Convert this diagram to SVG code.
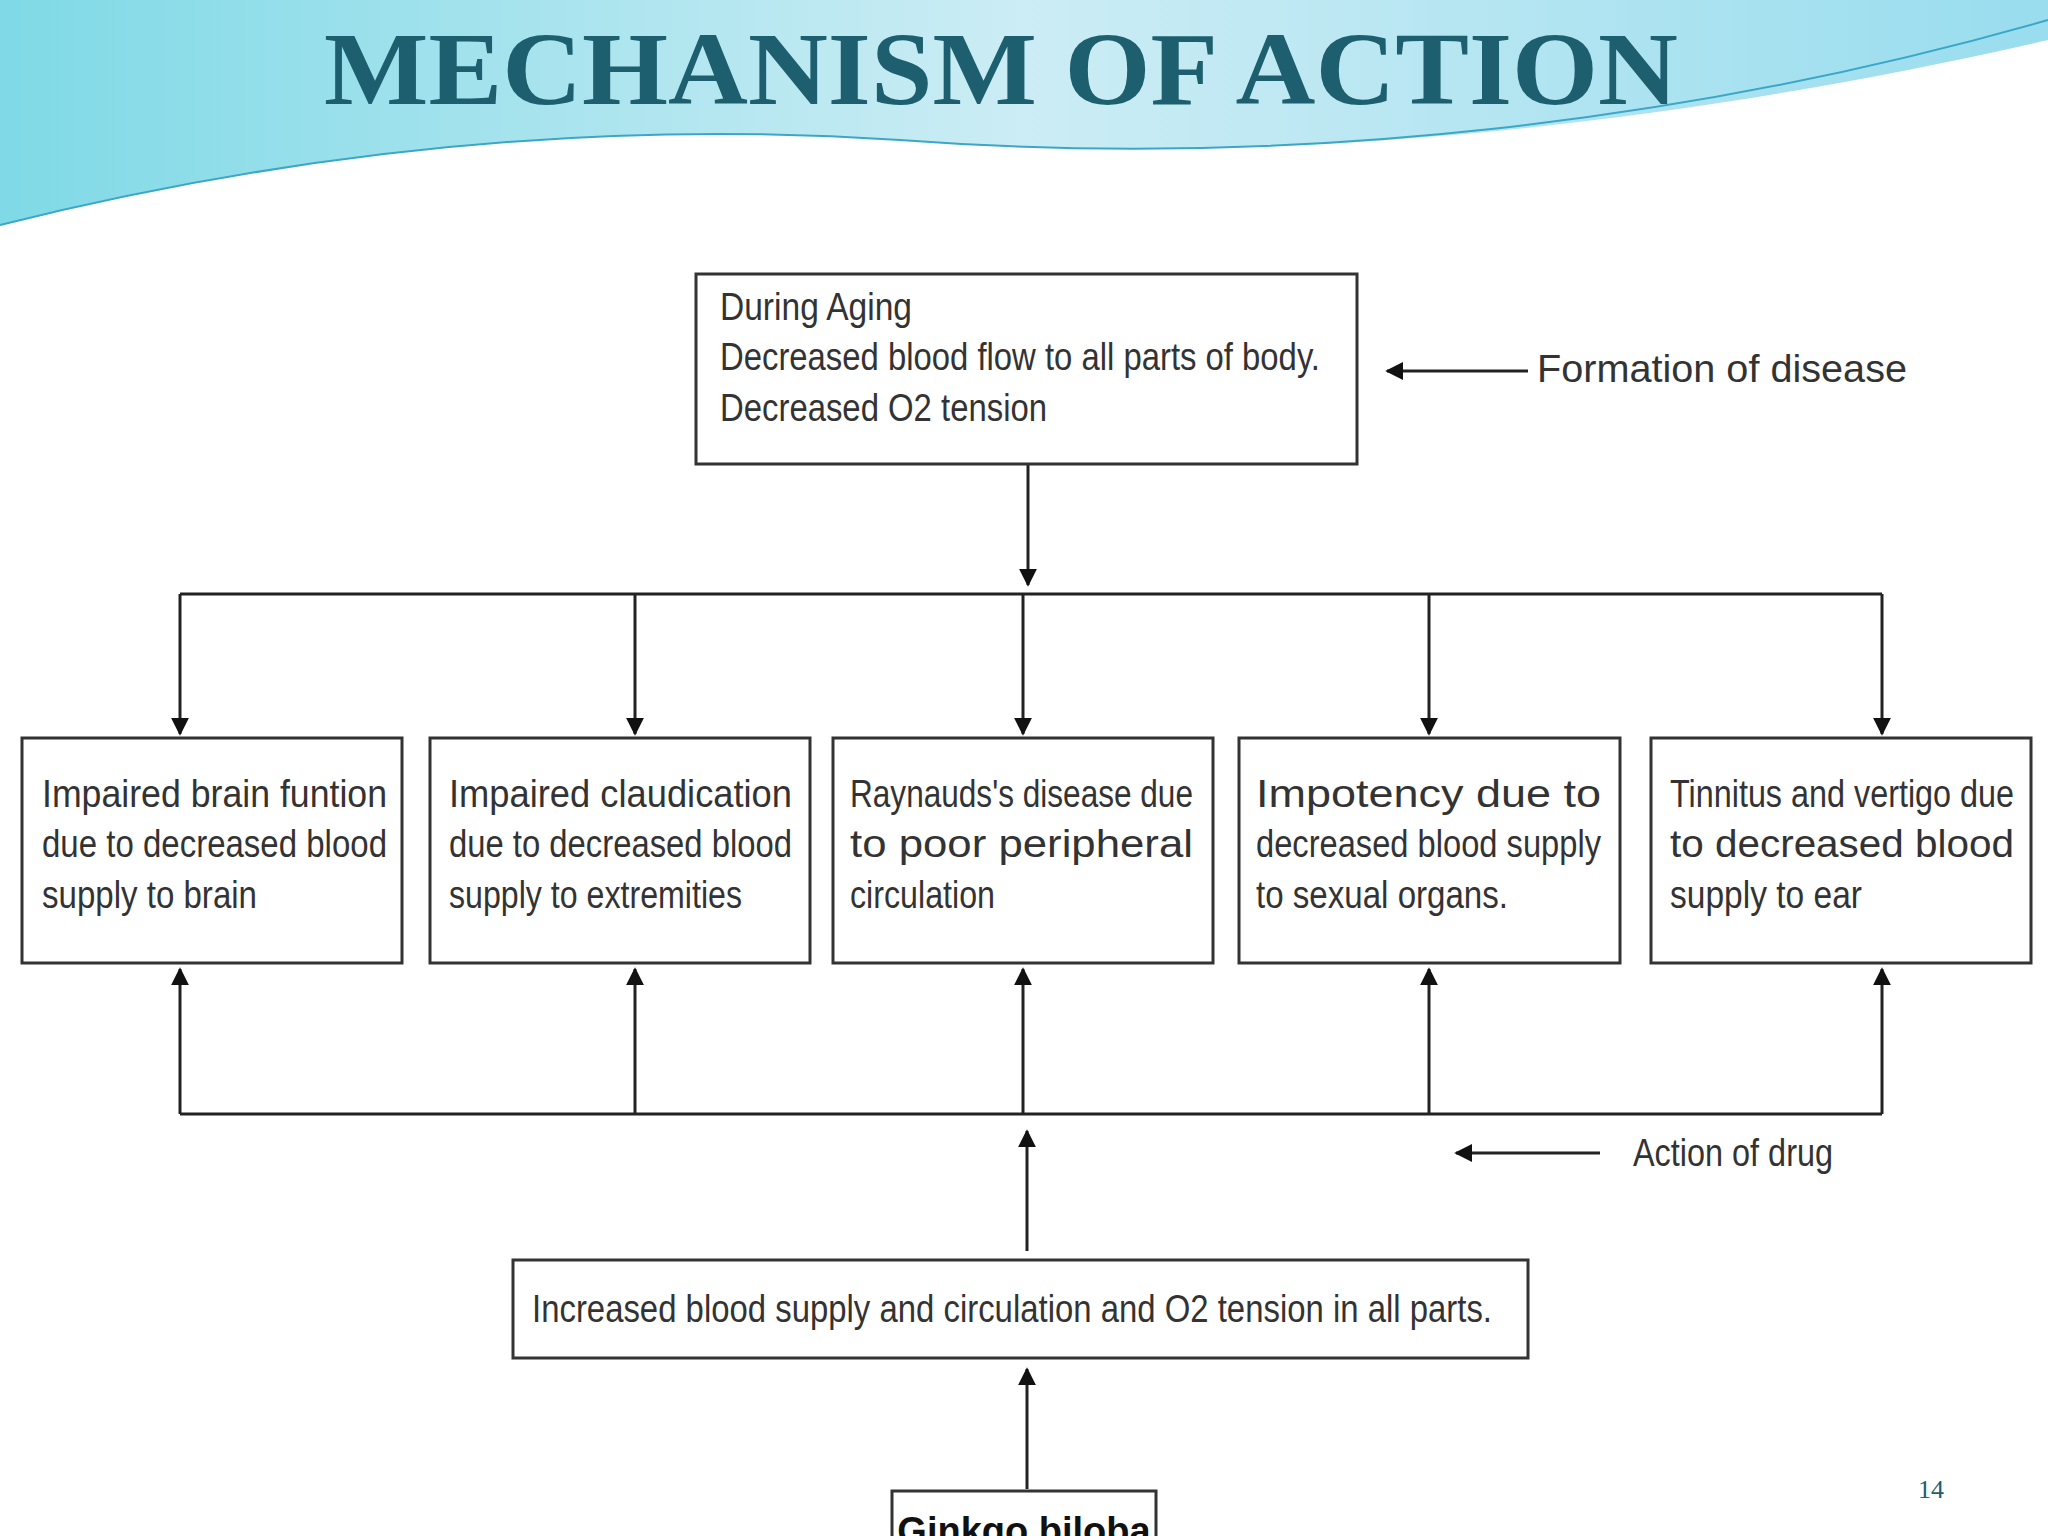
<svg xmlns="http://www.w3.org/2000/svg" width="2048" height="1536" viewBox="0 0 2048 1536">
<defs>
<style>
.t{font-family:"Liberation Sans",Arial,sans-serif;font-size:38px;fill:#333}
.b{fill:#fff;stroke:#333;stroke-width:3}
.c{stroke:#222;stroke-width:3;fill:none}
</style>
<marker id="a" viewBox="0 0 10 10" refX="9" refY="5" markerWidth="6" markerHeight="6" orient="auto"><path d="M0,0L10,5L0,10z" fill="#111"/></marker>
<linearGradient id="g" x1="0" y1="0" x2="1" y2="0"><stop offset="0" stop-color="#5fd0e0"/><stop offset="0.5" stop-color="#bfe8f2"/><stop offset="1" stop-color="#7fd4ea"/></linearGradient>
</defs>
<rect width="2048" height="1536" fill="#fff"/>
<path d="M0,0H2048V40C1700,120 1300,170 900,140C600,120 300,150 0,225Z" fill="url(#g)" opacity="0.8"/>
<path d="M0,225C300,150 600,120 900,140C1300,170 1700,120 2048,20" class="c" style="stroke:#3aa7c8;stroke-width:2"/>
<text x="324" y="104" textLength="1354" lengthAdjust="spacingAndGlyphs" style="font-family:'Liberation Serif',serif;font-weight:bold;font-size:104px;fill:#1d5f6e">MECHANISM OF ACTION</text>
<g id="connectors" class="c">
<line x1="1528" y1="371" x2="1387" y2="371" marker-end="url(#a)"/>
<line x1="1028" y1="464" x2="1028" y2="585" marker-end="url(#a)"/>
<line x1="180" y1="594" x2="1882" y2="594"/>
<line x1="180" y1="594" x2="180" y2="734" marker-end="url(#a)"/>
<line x1="635" y1="594" x2="635" y2="734" marker-end="url(#a)"/>
<line x1="1023" y1="594" x2="1023" y2="734" marker-end="url(#a)"/>
<line x1="1429" y1="594" x2="1429" y2="734" marker-end="url(#a)"/>
<line x1="1882" y1="594" x2="1882" y2="734" marker-end="url(#a)"/>
<line x1="180" y1="1114" x2="1882" y2="1114"/>
<line x1="180" y1="1114" x2="180" y2="969" marker-end="url(#a)"/>
<line x1="635" y1="1114" x2="635" y2="969" marker-end="url(#a)"/>
<line x1="1023" y1="1114" x2="1023" y2="969" marker-end="url(#a)"/>
<line x1="1429" y1="1114" x2="1429" y2="969" marker-end="url(#a)"/>
<line x1="1882" y1="1114" x2="1882" y2="969" marker-end="url(#a)"/>
<line x1="1600" y1="1153" x2="1456" y2="1153" marker-end="url(#a)"/>
<line x1="1027" y1="1251" x2="1027" y2="1131" marker-end="url(#a)"/>
<line x1="1027" y1="1489" x2="1027" y2="1369" marker-end="url(#a)"/>
</g>
<text class="t" x="1537" y="382" textLength="370" lengthAdjust="spacingAndGlyphs">Formation of disease</text>
<text class="t" x="1633" y="1166" textLength="200" lengthAdjust="spacingAndGlyphs">Action of drug</text>
<g id="top"><rect class="b" x="696" y="274" width="661" height="190"/>
<text class="t" x="720" y="320" textLength="192" lengthAdjust="spacingAndGlyphs">During Aging</text>
<text class="t" x="720" y="370" textLength="600" lengthAdjust="spacingAndGlyphs">Decreased blood flow to all parts of body.</text>
<text class="t" x="720" y="421" textLength="327" lengthAdjust="spacingAndGlyphs">Decreased O2 tension</text></g>
<g id="n1"><rect class="b" x="22" y="738" width="380" height="225"/>
<text class="t" x="42" y="807" textLength="345" lengthAdjust="spacingAndGlyphs">Impaired brain funtion</text>
<text class="t" x="42" y="857" textLength="345" lengthAdjust="spacingAndGlyphs">due to decreased blood</text>
<text class="t" x="42" y="908" textLength="215" lengthAdjust="spacingAndGlyphs">supply to brain</text></g>
<g id="n2"><rect class="b" x="430" y="738" width="380" height="225"/>
<text class="t" x="449" y="807" textLength="343" lengthAdjust="spacingAndGlyphs">Impaired claudication</text>
<text class="t" x="449" y="857" textLength="343" lengthAdjust="spacingAndGlyphs">due to decreased blood</text>
<text class="t" x="449" y="908" textLength="293" lengthAdjust="spacingAndGlyphs">supply to extremities</text></g>
<g id="n3"><rect class="b" x="833" y="738" width="380" height="225"/>
<text class="t" x="850" y="807" textLength="343" lengthAdjust="spacingAndGlyphs">Raynauds's disease due</text>
<text class="t" x="850" y="857" textLength="343" lengthAdjust="spacingAndGlyphs">to poor peripheral</text>
<text class="t" x="850" y="908" textLength="145" lengthAdjust="spacingAndGlyphs">circulation</text></g>
<g id="n4"><rect class="b" x="1239" y="738" width="381" height="225"/>
<text class="t" x="1256" y="807" textLength="345" lengthAdjust="spacingAndGlyphs">Impotency due to</text>
<text class="t" x="1256" y="857" textLength="345" lengthAdjust="spacingAndGlyphs">decreased blood supply</text>
<text class="t" x="1256" y="908" textLength="252" lengthAdjust="spacingAndGlyphs">to sexual organs.</text></g>
<g id="n5"><rect class="b" x="1651" y="738" width="380" height="225"/>
<text class="t" x="1670" y="807" textLength="344" lengthAdjust="spacingAndGlyphs">Tinnitus and vertigo due</text>
<text class="t" x="1670" y="857" textLength="344" lengthAdjust="spacingAndGlyphs">to decreased blood</text>
<text class="t" x="1670" y="908" textLength="192" lengthAdjust="spacingAndGlyphs">supply to ear</text></g>
<g id="inc"><rect class="b" x="513" y="1260" width="1015" height="98"/>
<text class="t" x="532" y="1322" textLength="960" lengthAdjust="spacingAndGlyphs">Increased blood supply and circulation and O2 tension in all parts.</text></g>
<g id="ginkgo"><rect class="b" x="892" y="1491" width="264" height="60"/>
<text class="t" x="1024" y="1544" text-anchor="middle" style="font-weight:bold;fill:#111">Ginkgo biloba</text></g>
<text x="1918" y="1498" style="font-family:'Liberation Serif',serif;font-size:26px;fill:#1d5f6e">14</text>
</svg>
